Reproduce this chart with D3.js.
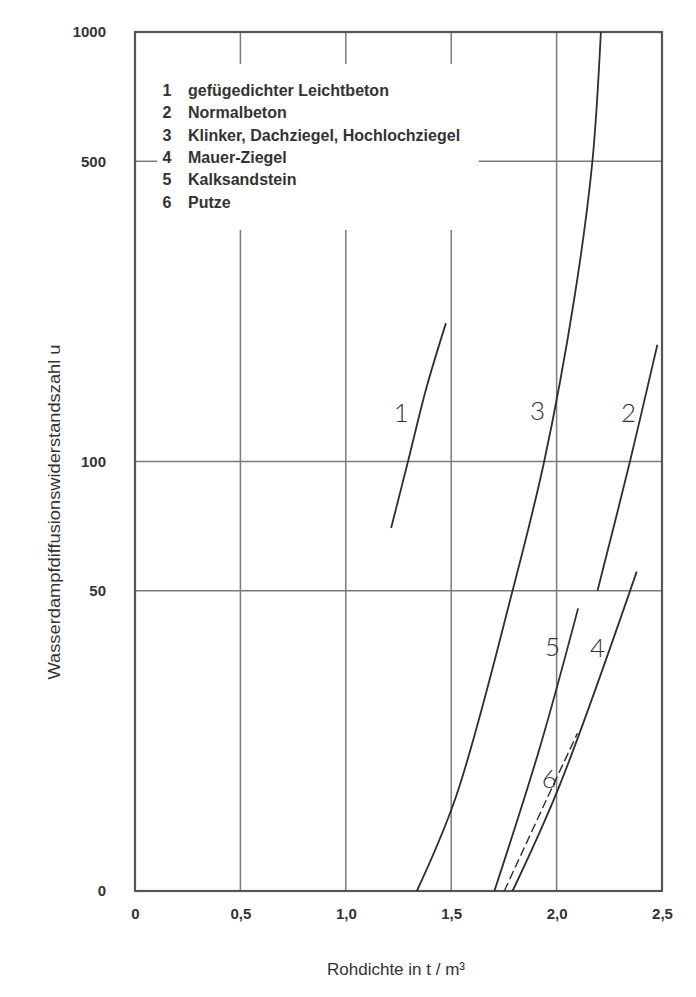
<!DOCTYPE html>
<html>
<head>
<meta charset="utf-8">
<script src="https://cdn.jsdelivr.net/npm/d3@7"></script>
<style>
  body { margin: 0; background: #fff; }
  text { font-family: "Liberation Sans", Arial, sans-serif; fill: #333; }
</style>
</head>
<body>
<div id="chart"></div>
<script>
// Rohdichte (t/m³) against Wasserdampfdiffusionswiderstandszahl
var xTicks = [0, 0.5, 1.0, 1.5, 2.0, 2.5];
var xTickLabels = ["0", "0,5", "1,0", "1,5", "2,0", "2,5"];
var yTicks = [10, 50, 100, 500, 1000];
var yTickLabels = ["0", "50", "100", "500", "1000"];

var legendNames = ["gefügedichter Leichtbeton", "Normalbeton", "Klinker, Dachziegel, Hochlochziegel",
                   "Mauer-Ziegel", "Kalksandstein", "Putze"];

// curve values
var rho1 = [1.215, 1.295, 1.38, 1.475];
var mu1  = [70, 100, 147, 210];
var rho2 = [2.194, 2.348, 2.478];
var mu2  = [50, 100, 187];
var rho3 = [1.337, 1.523, 1.791, 1.941, 2.083, 2.169, 2.210];
var mu3  = [10, 16.6, 50, 100, 238, 495, 1000];
var rho4 = [1.791, 2.012, 2.380];
var mu4  = [10, 17.5, 55.4];
var rho5 = [1.705, 1.922, 2.102];
var mu5  = [10, 21.7, 45.5];
var rho6 = [1.752, 1.949, 2.099];
var mu6  = [10, 16.2, 23.3];

// where the hand written curve numbers sit
var curveIds = ["1", "2", "3", "4", "5", "6"];
var labelRho = [1.263, 2.341, 1.910, 2.194, 1.981, 1.965];
var labelMu  = [130, 130, 131, 36.8, 37, 18.3];

var curves = [
    {id: "1", rho: rho1, mu: mu1, dash: null},
    {id: "2", rho: rho2, mu: mu2, dash: null},
    {id: "3", rho: rho3, mu: mu3, dash: null},
    {id: "4", rho: rho4, mu: mu4, dash: null},
    {id: "5", rho: rho5, mu: mu5, dash: null},
    {id: "6", rho: rho6, mu: mu6, dash: "9,4"}
];

var W = 696, H = 997;
var margin = {top: 32, right: 34, bottom: 106, left: 135};

var svg = d3.select("#chart").append("svg")
    .attr("width", W)
    .attr("height", H);

var x = d3.scaleLinear().domain([0, 2.5]).range([margin.left, W - margin.right]);
var y = d3.scaleLog().domain([10, 1000]).range([H - margin.bottom, margin.top]);

var grid = svg.append("g").attr("stroke", "#7a7a7a").attr("stroke-width", 1.5);

// vertical grid 0.5 .. 1.5 are broken by the legend box, 2.0 runs through
[0.5, 1.0, 1.5].forEach(function (v) {
    grid.append("line")
        .attr("x1", x(v)).attr("x2", x(v))
        .attr("y1", y(1000)).attr("y2", y(1000) + 32);
    grid.append("line")
        .attr("x1", x(v)).attr("x2", x(v))
        .attr("y1", y(1000) + 198).attr("y2", y(10));
});
grid.append("line")
    .attr("x1", x(2.0)).attr("x2", x(2.0))
    .attr("y1", y(1000)).attr("y2", y(10));

// horizontal grid
[50, 100].forEach(function (v) {
    grid.append("line")
        .attr("x1", x(0)).attr("x2", x(2.5))
        .attr("y1", y(v)).attr("y2", y(v));
});
grid.append("line")
    .attr("x1", x(1.63)).attr("x2", x(2.5))
    .attr("y1", y(500)).attr("y2", y(500));
grid.append("line")
    .attr("x1", x(0)).attr("x2", x(0) + 22)
    .attr("y1", y(500)).attr("y2", y(500));

// frame
svg.append("rect")
    .attr("x", x(0)).attr("y", y(1000))
    .attr("width", x(2.5) - x(0))
    .attr("height", y(10) - y(1000))
    .attr("fill", "none")
    .attr("stroke", "#555")
    .attr("stroke-width", 2.2);

// axes (only the labels, the frame carries the lines)
var xAxis = svg.append("g")
    .attr("class", "x_axis")
    .attr("transform", "translate(0," + (y(10) + 14) + ")")
    .call(d3.axisBottom(x).tickValues(xTicks)
        .tickFormat(function (d, i) { return xTickLabels[i]; })
        .tickSize(0));
xAxis.select(".domain").remove();
xAxis.selectAll("text")
    .style("font-size", "15px")
    .style("font-weight", "bold")
    .attr("fill", "#444")
    .attr("font-family", "Liberation Sans");

var yAxis = svg.append("g")
    .attr("class", "y_axis")
    .attr("transform", "translate(" + (x(0) - 26) + ",0)")
    .call(d3.axisLeft(y).tickValues(yTicks)
        .tickFormat(function (d, i) { return yTickLabels[i]; })
        .tickSize(0));
yAxis.select(".domain").remove();
yAxis.selectAll("text")
    .style("font-size", "15px")
    .style("font-weight", "bold")
    .attr("fill", "#444")
    .attr("font-family", "Liberation Sans");

svg.append("text")
    .attr("x", 396)
    .attr("y", 975)
    .attr("text-anchor", "middle")
    .style("font-size", "17px")
    .attr("fill", "#444")
    .text("Rohdichte in t / m³");

svg.append("text")
    .attr("transform", "translate(60,512) rotate(-90)")
    .attr("text-anchor", "middle")
    .attr("textLength", 335)
    .attr("lengthAdjust", "spacingAndGlyphs")
    .style("font-size", "16px")
    .attr("fill", "#444")
    .text("Wasserdampfdiffusionswiderstandszahl u");

// legend
var legend = svg.append("g").attr("class", "legend");
legendNames.forEach(function (name, i) {
    legend.append("text")
        .attr("x", 167).attr("y", 96 + i * 22.3)
        .attr("text-anchor", "middle")
        .style("font-size", "16px")
        .style("font-weight", "bold")
        .text(i + 1);
    legend.append("text")
        .attr("x", 188).attr("y", 96 + i * 22.3)
        .style("font-size", "16px")
        .style("font-weight", "bold")
        .text(name);
});

// curves
var line = d3.line()
    .x(function (d) { return x(d[0]); })
    .y(function (d) { return y(d[1]); })
    .curve(d3.curveCatmullRom.alpha(0.5));

svg.selectAll(".curve")
    .data(curves)
    .enter().append("path")
    .attr("class", "curve")
    .attr("d", function (c) { return line(d3.zip(c.rho, c.mu)); })
    .attr("fill", "none")
    .attr("stroke", "#2e2e2e")
    .attr("stroke-width", function (c) { return c.dash ? 1.4 : 1.8; })
    .attr("stroke-dasharray", function (c) { return c.dash; });

svg.selectAll(".curve_label")
    .data(curveIds)
    .enter().append("text")
    .attr("class", "curve_label")
    .attr("x", function (d, i) { return x(labelRho[i]); })
    .attr("y", function (d, i) { return y(labelMu[i]); })
    .attr("dy", "0.36em")
    .attr("text-anchor", "middle")
    .style("font-family", "Lato, sans-serif")
    .style("font-weight", "300")
    .style("font-size", "26px")
    .attr("fill", "#666")
    .text(function (d) { return d; });
</script>
</body>
</html>
